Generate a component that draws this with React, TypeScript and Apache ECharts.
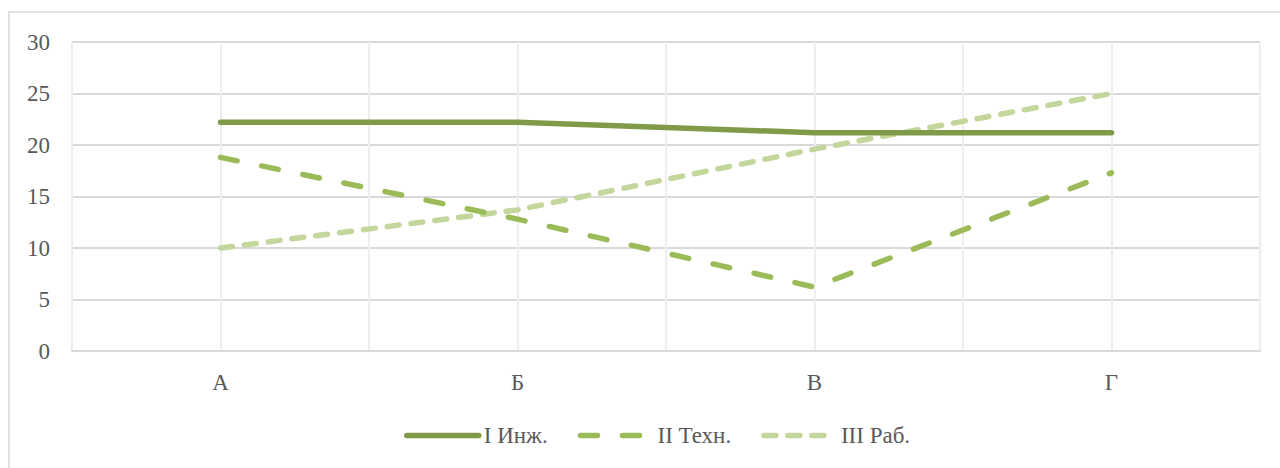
import React, { useEffect, useRef } from "react";
import * as echarts from "echarts";

const categories = ["А", "Б", "В", "Г"];
const seriesNames = ["I Инж.", "II Техн.", "III Раб."];
const engValues = [22.2, 22.2, 21.2, 21.2];
const techValues = [18.8, 12.8, 6.2, 17.3];
const workValues = [10.0, 13.7, 19.6, 25.0];
const minorSlots = ["", "", "", "", "", "", "", ""];

const FONT = "Liberation Serif";
const TEXT = "#595959";

export default function App() {
  const ref = useRef<HTMLDivElement>(null);
  useEffect(() => {
    if (!ref.current) return;
    const chart = echarts.init(ref.current, undefined, { renderer: "svg" });
    chart.setOption({
      animation: false,
      backgroundColor: "#ffffff",
      textStyle: { fontFamily: FONT, color: TEXT },
      graphic: [
        {
          type: "rect",
          shape: { x: 9, y: 12, width: 1300, height: 500 },
          style: { fill: "none", stroke: "#d9d9d9", lineWidth: 1.5 },
          silent: true,
          z: -1,
        },
      ],
      grid: { left: 72, top: 42, width: 1188, height: 309, containLabel: false },
      legend: {
        left: 404,
        top: 424,
        padding: 0,
        itemWidth: 72,
        itemHeight: 14,
        itemGap: 30,
        itemStyle: { opacity: 0 },
        lineStyle: { width: 5.5, cap: "round" },
        textStyle: { fontFamily: FONT, fontSize: 23, color: TEXT },
        data: seriesNames,
      },
      xAxis: [
        {
          type: "category",
          data: categories,
          boundaryGap: true,
          axisTick: { show: false },
          axisLine: { show: true, lineStyle: { color: "#d9d9d9", width: 2 } },
          axisLabel: { fontFamily: FONT, fontSize: 23, color: TEXT, margin: 20 },
          splitLine: { show: false },
        },
        {
          type: "category",
          data: minorSlots,
          position: "top",
          boundaryGap: true,
          axisTick: { show: false },
          axisLine: { show: false },
          axisLabel: { show: false },
          splitLine: { show: true, lineStyle: { color: "#eeeeee", width: 2 } },
        },
      ],
      yAxis: {
        type: "value",
        min: 0,
        max: 30,
        interval: 5,
        axisLine: { show: false },
        axisTick: { show: false },
        axisLabel: { fontFamily: FONT, fontSize: 23, color: TEXT, margin: 22 },
        splitLine: { show: true, lineStyle: { color: "#d9d9d9", width: 2 } },
      },
      series: [
        {
          name: seriesNames[0],
          type: "line",
          data: engValues,
          symbol: "none",
          color: "#7f9a48",
          lineStyle: { color: "#7f9a48", width: 5.5, cap: "round", join: "round" },
          z: 4,
        },
        {
          name: seriesNames[1],
          type: "line",
          data: techValues,
          symbol: "none",
          color: "#9bbb59",
          lineStyle: { color: "#9bbb59", width: 5.5, type: [17, 25], cap: "round", join: "round" },
          z: 3,
        },
        {
          name: seriesNames[2],
          type: "line",
          data: workValues,
          symbol: "none",
          color: "#c3d69b",
          lineStyle: { color: "#c3d69b", width: 5.5, type: [12, 12], cap: "round", join: "round" },
          z: 2,
        },
      ],
    });
    return () => chart.dispose();
  }, []);
  return (
    <div
      ref={ref}
      style={{ position: "absolute", left: 0, top: 0, width: 1280, height: 468 }}
    />
  );
}
